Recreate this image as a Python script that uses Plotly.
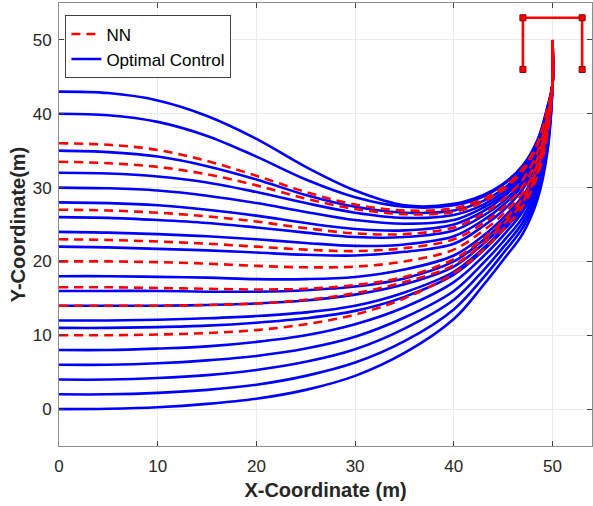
import plotly.graph_objects as go

x_pts = [0, 5, 10, 15, 20, 25, 30, 35, 40, 43, 45, 47, 48.5, 49.5, 50, 50]

# Optimal control trajectories (blue), named by start height
oc_43 = [43, 42.8, 41.8, 39.7, 36.6, 32.8, 29.6, 27.6, 27.8, 29.0, 30.5, 33.0, 36.5, 41.0, 44, 49]
oc_40 = [40, 39.8, 38.9, 37.0, 34.2, 31.1, 28.7, 27.4, 27.6, 28.8, 30.4, 32.9, 36.4, 40.9, 44, 49]
oc_35 = [35, 34.8, 34.2, 32.9, 31.1, 29.0, 27.4, 26.6, 26.9, 28.2, 29.8, 32.4, 36.0, 40.6, 44, 49]
oc_32 = [32, 31.9, 31.5, 30.7, 29.4, 27.9, 26.6, 25.9, 26.3, 27.7, 29.4, 32.1, 35.7, 40.4, 44, 49]
oc_30 = [30, 29.9, 29.6, 28.9, 27.9, 26.7, 25.6, 25.1, 25.6, 27.3, 29.0, 31.7, 35.4, 40.2, 44, 49]
oc_28 = [28, 27.9, 27.6, 27.0, 26.2, 25.2, 24.4, 24.2, 25.0, 26.8, 28.7, 31.4, 35.1, 39.9, 44, 49]
oc_26 = [26, 25.9, 25.6, 25.2, 24.6, 23.9, 23.3, 23.3, 24.2, 26.2, 28.1, 30.9, 34.7, 39.6, 44, 49]
oc_24 = [24, 23.9, 23.7, 23.4, 23.0, 22.5, 22.1, 22.3, 23.4, 25.6, 27.6, 30.4, 34.2, 39.3, 44, 49]
oc_22 = [22, 21.9, 21.7, 21.5, 21.2, 20.9, 20.8, 21.3, 22.4, 24.8, 26.9, 29.8, 33.7, 38.9, 44, 49]
oc_18 = [18, 18.0, 17.9, 17.8, 17.6, 17.6, 17.9, 18.9, 20.8, 23.5, 25.9, 28.9, 32.9, 38.3, 44, 49]
oc_16 = [16, 16.0, 16.0, 15.9, 15.9, 16.1, 16.6, 17.7, 20.0, 22.9, 25.4, 28.4, 32.5, 38.0, 44, 49]
oc_14 = [14, 14.0, 14.0, 14.1, 14.3, 14.7, 15.5, 16.9, 19.3, 22.4, 24.9, 28.0, 32.1, 37.7, 44, 49]
oc_12 = [12, 12.0, 12.1, 12.3, 12.6, 13.1, 14.0, 15.8, 18.6, 21.8, 24.4, 27.6, 31.8, 37.5, 44, 49]
oc_11 = [11, 11.0, 11.1, 11.3, 11.7, 12.3, 13.3, 15.2, 18.2, 21.5, 24.2, 27.3, 31.6, 37.3, 44, 49]
oc_8 = [8, 8.0, 8.2, 8.5, 9.1, 10.0, 11.5, 13.8, 17.2, 20.7, 23.5, 26.8, 31.1, 36.9, 44, 49]
oc_6 = [6, 6.0, 6.2, 6.6, 7.2, 8.2, 9.8, 12.4, 16.0, 19.8, 22.7, 26.0, 30.5, 36.5, 44, 49]
oc_4 = [4, 4.0, 4.2, 4.6, 5.3, 6.4, 8.1, 10.9, 14.8, 18.8, 21.9, 25.3, 29.8, 36.0, 44, 49]
oc_2 = [2, 2.0, 2.2, 2.6, 3.3, 4.5, 6.3, 9.2, 13.5, 17.8, 21.1, 24.6, 29.2, 35.5, 44, 49]
oc_0 = [0, 0.05, 0.25, 0.7, 1.4, 2.6, 4.5, 7.6, 12.2, 16.8, 20.2, 23.8, 28.5, 35.0, 44, 49]

# Neural-network trajectories (red dashed)
nn_36 = [36, 35.8, 35.1, 33.6, 31.6, 29.4, 27.7, 26.9, 27.2, 28.5, 30.0, 32.6, 36.1, 40.7, 44, 50]
nn_33 = [33.5, 33.3, 32.8, 31.8, 30.3, 28.5, 27.1, 26.4, 26.7, 28.1, 29.7, 32.3, 35.9, 40.5, 44, 50]
nn_27 = [27, 26.9, 26.6, 26.1, 25.4, 24.5, 23.8, 23.7, 24.6, 26.5, 28.4, 31.1, 34.9, 39.8, 44, 50]
nn_23 = [23, 22.9, 22.7, 22.4, 22.0, 21.6, 21.4, 21.8, 23.0, 25.2, 27.3, 30.2, 34.0, 39.2, 44, 50]
nn_20 = [20, 20.0, 19.9, 19.7, 19.4, 19.2, 19.3, 20.0, 21.6, 24.2, 26.4, 29.3, 33.3, 38.6, 44, 50]
nn_16 = [16.5, 16.5, 16.4, 16.3, 16.2, 16.3, 16.8, 17.9, 20.3, 23.1, 25.5, 28.6, 32.7, 38.1, 44, 50]
nn_14 = [14, 14.0, 14.0, 14.1, 14.3, 14.8, 15.7, 17.2, 19.5, 22.5, 25.0, 28.1, 32.2, 37.8, 44, 50]
nn_10 = [10, 10.0, 10.1, 10.3, 10.7, 11.5, 12.8, 15.0, 18.4, 21.6, 24.3, 27.5, 31.7, 37.4, 44, 50]

# Target frame
target_x = [47, 47, 53, 53]
target_y = [46, 53, 53, 46]

x_ticks = [0, 10, 20, 30, 40, 50]
y_ticks = [0, 10, 20, 30, 40, 50]

oc_list = [oc_43, oc_40, oc_35, oc_32, oc_30, oc_28, oc_26, oc_24, oc_22,
           oc_18, oc_16, oc_14, oc_12, oc_11, oc_8, oc_6, oc_4, oc_2, oc_0]
nn_list = [nn_36, nn_33, nn_27, nn_23, nn_20, nn_16, nn_14, nn_10]

FONT = "Liberation Sans, Arial, Helvetica, sans-serif"

fig = go.Figure()
for i, ys in enumerate(oc_list):
    fig.add_trace(go.Scatter(
        x=x_pts, y=ys, mode="lines", name="Optimal Control",
        line=dict(color="#0000FF", width=2.6, shape="spline", smoothing=1.0),
        showlegend=(i == 0), legendrank=2, legendgroup="oc"))
for i, ys in enumerate(nn_list):
    fig.add_trace(go.Scatter(
        x=x_pts, y=ys, mode="lines", name="NN",
        line=dict(color="#FF0000", width=2.6, dash="9px,6px", shape="spline", smoothing=1.0),
        showlegend=(i == 0), legendrank=1, legendgroup="nn"))

fig.add_trace(go.Scatter(
    x=target_x, y=target_y, mode="lines+markers", showlegend=False,
    line=dict(color="#FF0000", width=2.6),
    marker=dict(symbol="square", size=6, color="#FF0000",
                line=dict(color="#7a0000", width=1))))

axis_common = dict(
    showgrid=True, gridcolor="#EBEBEB", gridwidth=1,
    zeroline=False, showline=True, linecolor="#8C8C8C", linewidth=1,
    mirror="ticks", ticks="inside", ticklen=5, tickcolor="#404040",
    automargin=False,
    tickfont=dict(family=FONT, size=17, color="#262626"),
)

fig.update_xaxes(range=[0, 54], tickvals=x_ticks, ticklabelstandoff=5,
                 title=dict(text="<b>X-Coordinate (m)</b>", standoff=7,
                            font=dict(family=FONT, size=20, color="#262626")),
                 **axis_common)
fig.update_yaxes(range=[-5, 55], tickvals=y_ticks, ticklabelstandoff=3,
                 title=dict(text="<b>Y-Coordinate(m)</b>", standoff=1,
                            font=dict(family=FONT, size=20, color="#262626")),
                 **axis_common)

fig.update_layout(
    width=593, height=506,
    margin=dict(l=59, r=1, t=3, b=60),
    plot_bgcolor="white", paper_bgcolor="white",
    legend=dict(x=0.012, y=0.972, xanchor="left", yanchor="top",
                bgcolor="white", bordercolor="#404040", borderwidth=1,
                font=dict(family=FONT, size=17, color="#000000"),
                itemwidth=30, tracegroupgap=0),
)

fig.write_html("out.html", config={"displayModeBar": False},
               post_script="document.body.style.margin='0';")
